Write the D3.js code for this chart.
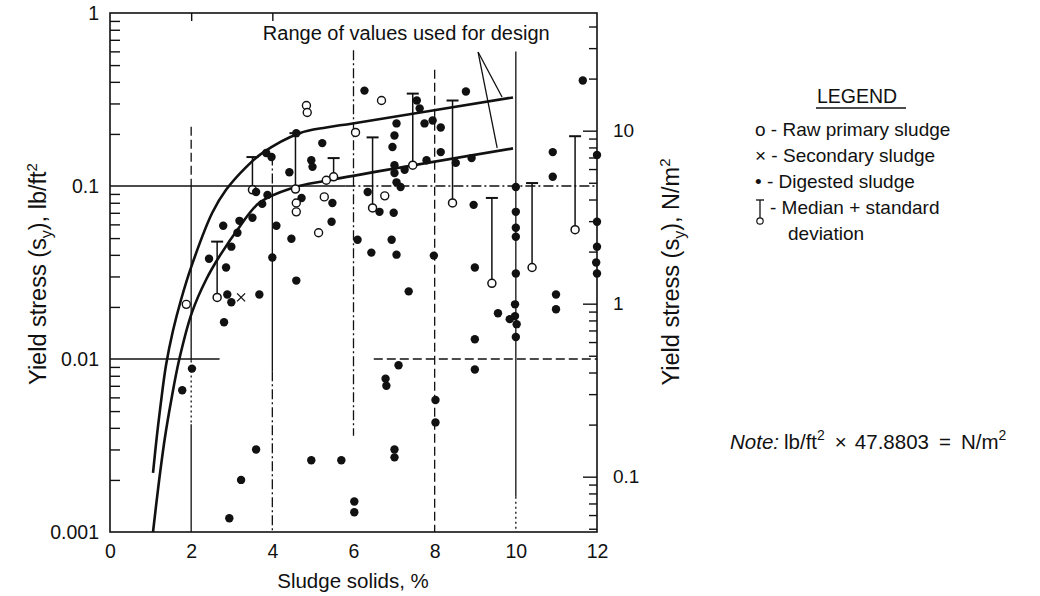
<!DOCTYPE html>
<html>
<head>
<meta charset="utf-8">
<script src="https://cdn.jsdelivr.net/npm/d3@7"></script>
<style>
  body { margin: 0; background: #fff; }
  svg text { font-family: "Liberation Sans", Arial, Helvetica, sans-serif; fill: #111; }
</style>
</head>
<body>
<svg width="1040" height="596"></svg>
<script>
// ---- data (lb/ft2 vs % solids) ----
const digestedX = [1.78, 2.02, 2.94, 3.23, 3.60, 4.96, 5.70, 6.02, 6.02, 6.79, 6.81, 7.11, 8.02, 8.02, 7.01, 7.01,
  8.99, 8.99, 10.0, 9.98, 9.98, 9.85, 10.02, 10.99, 10.99, 9.56, 8.99, 10.0, 10.0, 10.0, 10.0, 10.0,
  7.98, 7.36, 7.06, 6.44, 6.10, 6.94, 6.99, 6.64, 5.48, 5.46, 6.35, 4.59, 4.47, 4.10, 4.00, 3.68,
  2.89, 2.99, 2.81, 2.44, 2.86, 2.99, 3.14, 2.79, 3.19, 3.51, 3.60, 3.88, 3.75, 4.72, 4.42, 4.96,
  4.99, 5.23, 4.59, 3.85, 3.98, 6.27, 7.56, 7.63, 7.06, 7.01, 6.96, 7.75, 7.95, 8.15, 8.15, 7.01,
  7.01, 7.06, 7.16, 7.26, 7.80, 8.52, 8.91, 8.77, 11.65, 10.91, 10.91, 12.0, 12.0, 12.0, 11.98, 12.0, 8.96];
const digestedY = [0.0066, 0.0088, 0.0012, 0.0020, 0.0030, 0.0026, 0.0026, 0.0015, 0.0013, 0.0077, 0.0070, 0.0092, 0.0058, 0.0043, 0.0030, 0.0027,
  0.013, 0.0087, 0.0134, 0.0207, 0.0177, 0.0170, 0.0159, 0.0236, 0.0194, 0.0184, 0.0338, 0.0312, 0.0574, 0.0509, 0.0709, 0.0987,
  0.0396, 0.0246, 0.0401, 0.0412, 0.0489, 0.0489, 0.070, 0.0709, 0.0798, 0.0621, 0.0924, 0.0284, 0.0496, 0.0589, 0.0386, 0.0236,
  0.0236, 0.0213, 0.0163, 0.0380, 0.0338, 0.0446, 0.0537, 0.0589, 0.0629, 0.0655, 0.0924, 0.0888, 0.0788, 0.0853, 0.120, 0.141,
  0.129, 0.177, 0.202, 0.155, 0.147, 0.356, 0.312, 0.281, 0.230, 0.196, 0.168, 0.230, 0.239, 0.218, 0.157, 0.132,
  0.119, 0.105, 0.0987, 0.124, 0.141, 0.136, 0.145, 0.352, 0.407, 0.157, 0.113, 0.151, 0.0621, 0.0446, 0.0361, 0.0312, 0.0778];

const rawX = [4.84, 4.86, 6.69, 6.05, 5.33, 4.59, 4.59, 5.14, 5.28, 6.77, 1.88];
const rawY = [0.292, 0.266, 0.312, 0.204, 0.108, 0.0798, 0.0709, 0.0537, 0.0865, 0.0877, 0.0207];

const secondaryX = [3.23];
const secondaryY = [0.0227];

// median + standard deviation bars
const barX = [2.64, 3.51, 4.57, 5.51, 6.47, 7.46, 8.44, 9.41, 10.40, 11.46];
const barTop = [0.0477, 0.147, 0.202, 0.145, 0.191, 0.342, 0.312, 0.0853, 0.104, 0.194];
const barMedian = [0.0227, 0.095, 0.096, 0.113, 0.0747, 0.132, 0.0798, 0.0274, 0.0338, 0.0559];

// design range curves
const upperX = [1.06, 1.15, 1.25, 1.38, 1.55, 1.75, 2.0, 2.52, 2.86, 3.36, 3.75, 4.67, 5.33, 5.98, 9.93];
const upperY = [0.0022, 0.0035, 0.0055, 0.0092, 0.0145, 0.022, 0.034, 0.070, 0.095, 0.129, 0.155, 0.202, 0.218, 0.23, 0.325];
const lowerX = [1.06, 1.2, 1.35, 1.5, 1.7, 2.02, 2.37, 2.69, 3.19, 3.68, 4.49, 5.4, 9.93];
const lowerY = [0.001, 0.0019, 0.00347, 0.00562, 0.0098, 0.0186, 0.0288, 0.039, 0.058, 0.08, 0.0974, 0.108, 0.165];

const xTicks = [0, 2, 4, 6, 8, 10, 12];
const yTicks = [1, 0.1, 0.01, 0.001];
const yTicksN = [10, 1, 0.1];
const factor = 47.8803;

// reference lines: [value, from, to, style]
const hLines = [[0.1, 0, 5.8, "solid"], [0.1, 5.8, 12, "dashdot"], [0.01, 0, 2.7, "solid"], [0.01, 6.5, 12, "dashed"]];
const vLines = [[2, 0.22, 0.1, "dashed"], [2, 0.1, 0.0098, "solid"], [2, 0.0098, 0.0042, "dotted"], [2, 0.0042, 0.001, "solid"],
  [4, 0.15, 0.1, "dashdot"], [4, 0.1, 0.0085, "solid"], [4, 0.0085, 0.001, "dashdot"],
  [6, 0.61, 0.0036, "dashdot"], [8, 0.47, 0.001, "dashed"], [10, 0.6, 0.0016, "solid"], [10, 0.0016, 0.001, "dotted"]];

const noteFrom = [9.07, 0.595];
const noteTo = [[9.66, 0.327], [9.54, 0.166]];

const dashes = { solid: null, dashed: "9,4", dashdot: "10,3,2,3", dotted: "2,3" };

// ---- scales ----
const svg = d3.select("svg");
const x = d3.scaleLinear().domain([0, 12]).range([110, 597]);
const y = d3.scaleLog().domain([0.001, 1]).range([532, 13]);
const yN = d3.scaleLog().domain([0.001 * factor, factor]).range([532, 13]);

// minor ticks
const minorY = [];
[0.001, 0.01, 0.1].forEach(b => d3.range(2, 10).forEach(m => minorY.push(b * m)));
const minorN = [];
[0.01, 0.1, 1, 10].forEach(b => d3.range(1, 10).forEach(m => {
  const v = b * m;
  if (v >= 0.001 * factor && v <= factor) minorN.push(v);
}));

// reference lines
svg.append("g").selectAll("line").data(hLines).join("line")
  .attr("x1", d => x(d[1])).attr("x2", d => x(d[2]))
  .attr("y1", d => y(d[0])).attr("y2", d => y(d[0]))
  .attr("stroke", "#111").attr("stroke-width", 1.3)
  .attr("stroke-dasharray", d => dashes[d[3]]);
svg.append("g").selectAll("line").data(vLines).join("line")
  .attr("x1", d => x(d[0])).attr("x2", d => x(d[0]))
  .attr("y1", d => y(d[1])).attr("y2", d => y(d[2]))
  .attr("stroke", "#111").attr("stroke-width", 1.3)
  .attr("stroke-dasharray", d => dashes[d[3]]);

// frame
svg.append("rect")
  .attr("x", x(0)).attr("y", y(1))
  .attr("width", x(12) - x(0)).attr("height", y(0.001) - y(1))
  .attr("fill", "none").attr("stroke", "#111").attr("stroke-width", 1.6);

function styleAxis(g, size) {
  g.attr("font-family", null).attr("font-size", null);
  g.select(".domain").remove();
  g.selectAll("line").attr("stroke", "#111").attr("stroke-width", 1.4);
  g.selectAll("text").attr("font-size", size).attr("fill", "#111");
}

// inward minor ticks, left
svg.append("g").attr("transform", `translate(${x(0)},0)`)
  .call(d3.axisRight(y).tickValues(minorY).tickSize(10).tickFormat(""))
  .call(g => styleAxis(g, 19));
// left labels
svg.append("g").attr("transform", `translate(${x(0)},0)`)
  .call(d3.axisLeft(y).tickValues(yTicks).tickSize(0).tickPadding(11).tickFormat(d => String(d)))
  .call(g => styleAxis(g, 19.5));

// right ticks (N/m2)
svg.append("g").attr("transform", `translate(${x(12)},0)`)
  .call(d3.axisLeft(yN).tickValues(minorN).tickSize(8).tickFormat(""))
  .call(g => styleAxis(g, 19))
  .call(g => g.selectAll(".tick line").filter(d => yTicksN.includes(+d.toPrecision(3))).attr("x2", -14));
svg.append("g").attr("transform", `translate(${x(12)},0)`)
  .call(d3.axisRight(yN).tickValues(yTicksN).tickSize(0).tickPadding(16).tickFormat(d => String(d)))
  .call(g => styleAxis(g, 19));

// bottom labels
svg.append("g").attr("transform", `translate(0,${y(0.001)})`)
  .call(d3.axisBottom(x).tickValues(xTicks).tickSize(0).tickPadding(12))
  .call(g => styleAxis(g, 19.5));
// top ticks
svg.append("g").attr("transform", `translate(0,${y(1)})`)
  .call(d3.axisBottom(x).tickValues([2, 4]).tickSize(8).tickFormat(""))
  .call(g => styleAxis(g, 19));

// curves
const line = d3.line().x(d => x(d[0])).y(d => y(d[1])).curve(d3.curveCatmullRom.alpha(0.5));
[[upperX, upperY], [lowerX, lowerY]].forEach(([xs, ys]) => {
  svg.append("path").datum(xs.map((v, i) => [v, ys[i]]))
    .attr("d", line).attr("fill", "none")
    .attr("stroke", "#111").attr("stroke-width", 2.6);
});

// error bars
const bars = barX.map((v, i) => ({ x: v, top: barTop[i], med: barMedian[i] }));
const gb = svg.append("g").attr("stroke", "#111").attr("stroke-width", 1.5);
gb.selectAll(".stem").data(bars).join("line")
  .attr("x1", d => x(d.x)).attr("x2", d => x(d.x))
  .attr("y1", d => y(d.top)).attr("y2", d => y(d.med));
gb.selectAll(".cap").data(bars).join("line").attr("class", "cap")
  .attr("x1", d => x(d.x) - 6).attr("x2", d => x(d.x) + 6)
  .attr("y1", d => y(d.top)).attr("y2", d => y(d.top)).attr("stroke-width", 2);
gb.selectAll("circle").data(bars).join("circle")
  .attr("cx", d => x(d.x)).attr("cy", d => y(d.med)).attr("r", 4)
  .attr("fill", "#fff");

// digested sludge
svg.append("g").selectAll("circle").data(digestedX.map((v, i) => [v, digestedY[i]])).join("circle")
  .attr("cx", d => x(d[0])).attr("cy", d => y(d[1])).attr("r", 4.2).attr("fill", "#111");

// raw primary
svg.append("g").selectAll("circle").data(rawX.map((v, i) => [v, rawY[i]])).join("circle")
  .attr("cx", d => x(d[0])).attr("cy", d => y(d[1])).attr("r", 4)
  .attr("fill", "#fff").attr("stroke", "#111").attr("stroke-width", 1.4);

// secondary
svg.append("g").selectAll("path").data(secondaryX.map((v, i) => [v, secondaryY[i]])).join("path")
  .attr("d", d => {
    const cx = x(d[0]), cy = y(d[1]);
    return `M${cx - 4},${cy - 4}L${cx + 4},${cy + 4}M${cx - 4},${cy + 4}L${cx + 4},${cy - 4}`;
  })
  .attr("stroke", "#111").attr("stroke-width", 1.3);

// annotation
svg.append("text").attr("x", x(7.3)).attr("y", 40).attr("text-anchor", "middle")
  .attr("font-size", 20).text("Range of values used for design");
svg.append("g").selectAll("line").data(noteTo).join("line")
  .attr("x1", x(noteFrom[0])).attr("y1", y(noteFrom[1]))
  .attr("x2", d => x(d[0])).attr("y2", d => y(d[1]))
  .attr("stroke", "#111").attr("stroke-width", 1.3);

// axis titles
function yTitle(t, unit, sup) {
  t.append("tspan").text("Yield stress (s");
  t.append("tspan").attr("font-size", 16).attr("dy", 6).text("y");
  t.append("tspan").attr("dy", -6).text("), " + unit);
  t.append("tspan").attr("font-size", 15).attr("dy", -9).text(sup);
}
svg.append("text").attr("transform", "translate(46,274) rotate(-90)")
  .attr("text-anchor", "middle").attr("font-size", 23.5)
  .call(t => yTitle(t, "lb/ft", "2"));
svg.append("text").attr("transform", "translate(679,272) rotate(-90)")
  .attr("text-anchor", "middle").attr("font-size", 23.5)
  .call(t => yTitle(t, "N/m", "2"));
svg.append("text").attr("x", 353).attr("y", 588).attr("text-anchor", "middle")
  .attr("font-size", 20.5).text("Sludge solids, %");

// legend
const lg = svg.append("g");
lg.append("text").attr("x", 817).attr("y", 103).attr("font-size", 19.5).text("LEGEND");
lg.append("line").attr("x1", 816).attr("x2", 906).attr("y1", 108).attr("y2", 108)
  .attr("stroke", "#111").attr("stroke-width", 1.3);
const legendRows = ["o - Raw primary sludge", "\u00d7 - Secondary sludge", "\u2022 - Digested sludge"];
lg.selectAll(".row").data(legendRows).join("text")
  .attr("x", 755).attr("y", (d, i) => 136 + i * 26).attr("font-size", 19).text(d => d);
lg.append("text").attr("x", 770).attr("y", 214).attr("font-size", 19).text("- Median + standard");
lg.append("text").attr("x", 788).attr("y", 240).attr("font-size", 19).text("deviation");
lg.append("line").attr("x1", 760).attr("x2", 760).attr("y1", 200).attr("y2", 218)
  .attr("stroke", "#111").attr("stroke-width", 1.3);
lg.append("line").attr("x1", 756).attr("x2", 764).attr("y1", 200).attr("y2", 200)
  .attr("stroke", "#111").attr("stroke-width", 1.3);
lg.append("circle").attr("cx", 760).attr("cy", 221).attr("r", 3.2)
  .attr("fill", "#fff").attr("stroke", "#111").attr("stroke-width", 1.2);

// note
const nt = svg.append("text").attr("x", 730).attr("y", 449).attr("font-size", 20.5);
nt.append("tspan").attr("font-style", "italic").text("Note:");
nt.append("tspan").attr("dx", 5).text("lb/ft");
nt.append("tspan").attr("font-size", 14).attr("dy", -9).text("2");
nt.append("tspan").attr("dy", 9).attr("dx", 10).text("\u00d7");
nt.append("tspan").attr("dx", 8).text("47.8803");
nt.append("tspan").attr("dx", 10).text("=");
nt.append("tspan").attr("dx", 10).text("N/m");
nt.append("tspan").attr("font-size", 14).attr("dy", -9).text("2");
</script>
</body>
</html>
